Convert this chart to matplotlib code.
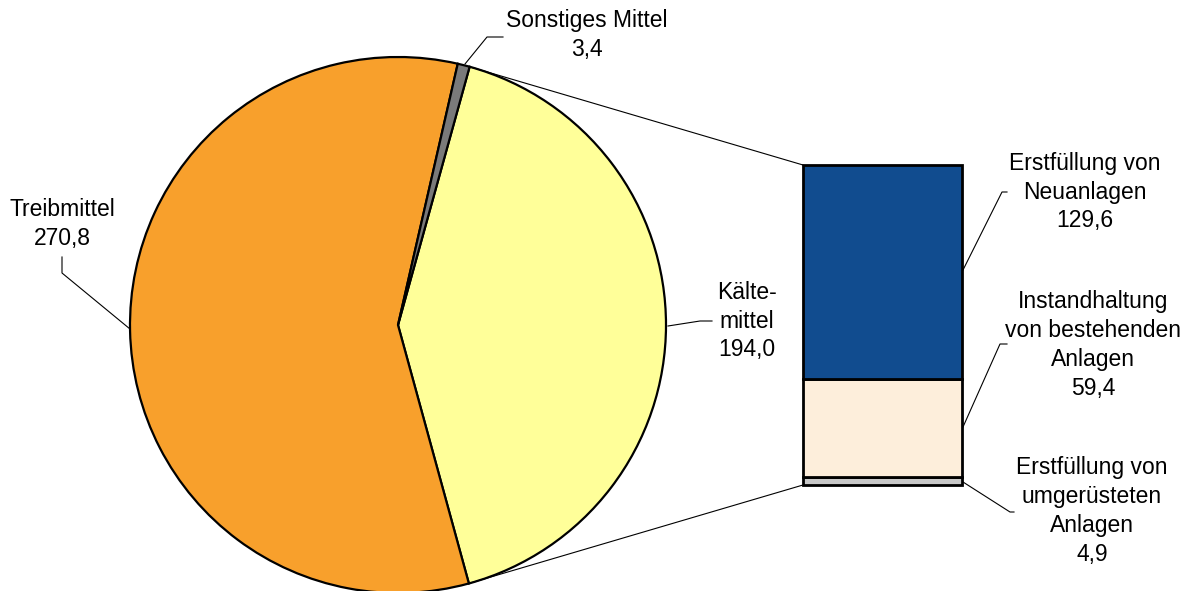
import matplotlib
matplotlib.use("Agg")
import matplotlib.pyplot as plt
from matplotlib.patches import ConnectionPatch
import numpy as np

plt.rcParams['font.family'] = ['Liberation Sans', 'DejaVu Sans']

# Data
pie_labels = ["Kälte-\nmittel", "Treibmittel", "Sonstiges Mittel"]
pie_values = [194.0, 270.8, 3.4]
pie_colors = ["#FFFF99", "#F8A02C", "#7A7A7A"]

bar_labels = ["Erstfüllung von\numgerüsteten\nAnlagen",
              "Instandhaltung\nvon bestehenden\nAnlagen",
              "Erstfüllung von\nNeuanlagen"]
bar_values = [4.9, 59.4, 129.6]
bar_colors = ["#C8C8C8", "#FDEEDB", "#114C8F"]

def fmt(v):
    return f"{v:.1f}".replace(".", ",")

W, H = 1192, 591
fig = plt.figure(figsize=(W / 100, H / 100), dpi=100)

# Pie axes: center (398,325) px, radius 268 px
cx, cy, r = 398, 325, 268
ax_pie = fig.add_axes([(cx - r) / W, (H - cy - r) / H, 2 * r / W, 2 * r / H])
start = 74.5
wedges, _ = ax_pie.pie(pie_values, colors=pie_colors, startangle=start, counterclock=False,
                       wedgeprops=dict(edgecolor="black", linewidth=1.6), radius=1)
ax_pie.set_xlim(-1, 1)
ax_pie.set_ylim(-1, 1)
ax_pie.set_aspect("auto")
ax_pie.axis("off")

# Bar axes
bx0, bx1, by0, by1 = 803, 962, 165, 485
ax_bar = fig.add_axes([bx0 / W, (H - by1) / H, (bx1 - bx0) / W, (by1 - by0) / H])
bottom = 0
for v, c in zip(bar_values, bar_colors):
    ax_bar.bar(0, v, width=1, bottom=bottom, color=c, edgecolor="black", linewidth=2)
    bottom += v
total_bar = sum(bar_values)
ax_bar.set_xlim(-0.5, 0.5)
ax_bar.set_ylim(0, total_bar)
ax_bar.axis("off")
for w in ax_bar.patches:
    w.set_clip_on(False)

# Connection lines from Kältemittel wedge to bar
kw = wedges[0]
for ang, yb in [(kw.theta2, total_bar), (kw.theta1, 0)]:
    xa, ya = np.cos(np.radians(ang)), np.sin(np.radians(ang))
    con = ConnectionPatch(xyA=(xa, ya), coordsA=ax_pie.transData,
                          xyB=(-0.5, yb), coordsB=ax_bar.transData,
                          color="black", linewidth=0.8)
    fig.add_artist(con)

# Overlay axes in pixel coordinates for labels and leader lines
ov = fig.add_axes([0, 0, 1, 1], zorder=5)
ov.set_xlim(0, W)
ov.set_ylim(H, 0)
ov.axis("off")
ov.patch.set_alpha(0)

fs = 16.5
ls = 1.33
texts = [
    (pie_labels[2] + "\n" + fmt(pie_values[2]), 587, 35),
    (pie_labels[1] + "\n" + fmt(pie_values[1]), 62, 224),
    (pie_labels[0] + "\n" + fmt(pie_values[0]), 747, 321),
    (bar_labels[2] + "\n" + fmt(bar_values[2]), 1085, 192),
    (bar_labels[1] + "\n" + fmt(bar_values[1]), 1093, 345),
    (bar_labels[0] + "\n" + fmt(bar_values[0]), 1092, 511),
]
for t, x, y in texts:
    ov.text(x, y, t, ha="center", va="center", fontsize=fs, linespacing=ls, color="black")

leaders = [
    [(465, 64), (487, 37), (503, 37)],
    [(130, 329), (62, 273), (62, 257)],
    [(668, 326), (700, 321), (712, 321)],
    [(963, 270), (1002, 192), (1007, 192)],
    [(963, 427), (1000, 344), (1007, 344)],
    [(963, 482), (1010, 512), (1014, 512)],
]
for pts in leaders:
    xs, ys = zip(*pts)
    ov.plot(xs, ys, color="black", linewidth=0.8)

fig.savefig("out.png", dpi=100)
